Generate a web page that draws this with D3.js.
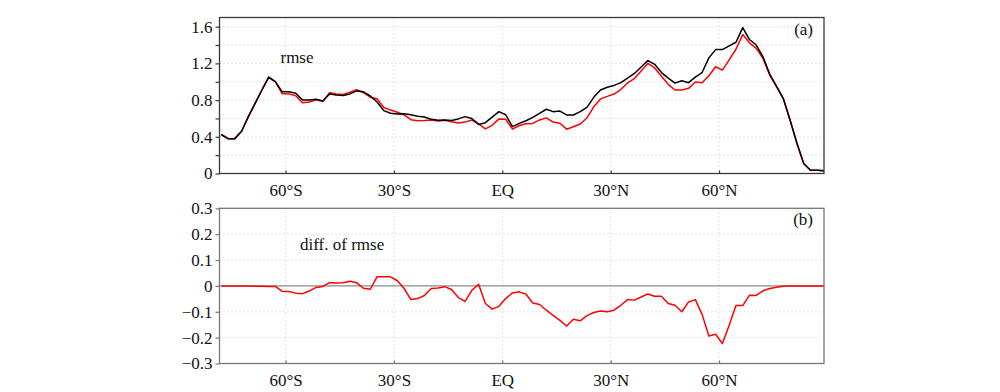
<!DOCTYPE html>
<html><head><meta charset="utf-8">
<script src="https://cdn.jsdelivr.net/npm/d3@7"></script>
<style>
html,body{margin:0;padding:0;background:#fff;}
svg text{font-family:"Liberation Serif","Times New Roman",serif;fill:#111;}
</style></head>
<body><svg id="c" width="1000" height="392"></svg>
<script>
const lat = [-77.8125,-75.9375,-74.0625,-72.1875,-70.3125,-68.4375,-66.5625,-64.6875,-62.8125,-60.9375,
-59.0625,-57.1875,-55.3125,-53.4375,-51.5625,-49.6875,-47.8125,-45.9375,-44.0625,-42.1875,
-40.3125,-38.4375,-36.5625,-34.6875,-32.8125,-30.9375,-29.0625,-27.1875,-25.3125,-23.4375,
-21.5625,-19.6875,-17.8125,-15.9375,-14.0625,-12.1875,-10.3125,-8.4375,-6.5625,-4.6875,
-2.8125,-0.9375,0.9375,2.8125,4.6875,6.5625,8.4375,10.3125,12.1875,14.0625,
15.9375,17.8125,19.6875,21.5625,23.4375,25.3125,27.1875,29.0625,30.9375,32.8125,
34.6875,36.5625,38.4375,40.3125,42.1875,44.0625,45.9375,47.8125,49.6875,51.5625,
53.4375,55.3125,57.1875,59.0625,60.9375,62.8125,64.6875,66.5625,68.4375,70.3125,
72.1875,74.0625,75.9375,77.8125,79.6875,81.5625,83.4375,85.3125,87.1875,89.0625];

const rmseBlack = [0.425,0.38,0.38,0.46,0.62,0.765,0.91,1.05,1.00,0.89,
0.89,0.875,0.80,0.80,0.81,0.79,0.867,0.856,0.85,0.867,
0.90,0.89,0.845,0.78,0.685,0.656,0.648,0.65,0.64,0.625,
0.615,0.592,0.58,0.583,0.578,0.595,0.62,0.60,0.535,0.554,
0.615,0.674,0.64,0.51,0.546,0.575,0.612,0.656,0.70,0.674,
0.68,0.638,0.638,0.674,0.72,0.83,0.91,0.94,0.96,0.99,
1.04,1.09,1.16,1.23,1.19,1.10,1.04,0.985,1.01,0.99,
1.05,1.10,1.26,1.35,1.35,1.39,1.43,1.59,1.46,1.40,
1.27,1.08,0.95,0.815,0.58,0.33,0.11,0.036,0.036,0.03];

const rmseRed = [0.425,0.38,0.38,0.46,0.62,0.764,0.909,1.048,0.998,0.869,
0.868,0.847,0.77,0.78,0.804,0.788,0.88,0.867,0.862,0.885,
0.912,0.881,0.832,0.815,0.72,0.691,0.668,0.64,0.587,0.576,
0.578,0.582,0.572,0.58,0.564,0.55,0.56,0.583,0.541,0.486,
0.525,0.595,0.591,0.483,0.523,0.543,0.546,0.584,0.606,0.56,
0.547,0.483,0.509,0.539,0.605,0.727,0.813,0.84,0.866,0.915,
0.987,1.035,1.117,1.199,1.15,1.06,0.972,0.91,0.91,0.928,
0.997,0.99,1.066,1.163,1.127,1.238,1.354,1.514,1.424,1.363,
1.251,1.07,0.945,0.814,0.58,0.33,0.11,0.036,0.036,0.03];

const rmseDiff = [0,0,0,0,0,-0.001,-0.001,-0.002,-0.002,-0.021,
-0.022,-0.028,-0.03,-0.02,-0.006,-0.002,0.013,0.011,0.012,0.018,
0.012,-0.009,-0.013,0.035,0.035,0.035,0.02,-0.01,-0.053,-0.049,
-0.037,-0.01,-0.008,-0.003,-0.014,-0.045,-0.06,-0.017,0.006,-0.068,
-0.09,-0.079,-0.049,-0.027,-0.023,-0.032,-0.066,-0.072,-0.094,-0.114,
-0.133,-0.155,-0.129,-0.135,-0.115,-0.103,-0.097,-0.1,-0.094,-0.075,
-0.053,-0.055,-0.043,-0.031,-0.04,-0.04,-0.068,-0.075,-0.1,-0.062,
-0.053,-0.11,-0.194,-0.187,-0.223,-0.152,-0.076,-0.076,-0.036,-0.037,
-0.019,-0.01,-0.005,-0.001,0,0,0,0,0,0];

const xTickVals = [-60,-30,0,30,60];
const xTickLabels = ["60°S","30°S","EQ","30°N","60°N"];
const yTopTicks = [0,0.2,0.4,0.6,0.8,1.0,1.2,1.4,1.6];
const yTopLabels = ["0","","0.4","","0.8","","1.2","","1.6"];
const yBotTicks = [-0.3,-0.2,-0.1,0,0.1,0.2,0.3];
const yBotLabels = ["\u22120.3","\u22120.2","\u22120.1","0","0.1","0.2","0.3"];

const svg = d3.select("#c");
const L = 219.5, R = 824;
const x = d3.scaleLinear().domain([-78.3, 89.0625]).range([L, R]);

function panel(cfg){
  const g = svg.append("g");
  const y = d3.scaleLinear().domain(cfg.domain).range([cfg.bottom, cfg.top]);
  g.selectAll(".hg").data(cfg.grid).enter().append("line")
    .attr("x1",L).attr("x2",R).attr("y1",d=>y(d)).attr("y2",d=>y(d))
    .attr("stroke","#c8c8c8").attr("stroke-width",1).attr("stroke-dasharray","1,3");
  g.selectAll(".vg").data(xTickVals).enter().append("line")
    .attr("x1",d=>x(d)).attr("x2",d=>x(d)).attr("y1",cfg.top).attr("y2",cfg.bottom)
    .attr("stroke","#c8c8c8").attr("stroke-width",1).attr("stroke-dasharray","1,3");
  if (cfg.zero){
    g.append("line").attr("x1",L).attr("x2",R).attr("y1",y(0)).attr("y2",y(0))
      .attr("stroke","#8a8a8a").attr("stroke-width",1.2);
  }
  const clipId = "clip"+cfg.name;
  svg.append("clipPath").attr("id",clipId).append("rect")
    .attr("x",L).attr("y",cfg.top).attr("width",R-L).attr("height",cfg.bottom-cfg.top);
  const line = d3.line().x((d,i)=>x(lat[i])).y(d=>y(d));
  cfg.series.forEach(s=>{
    g.append("path").datum(s.values).attr("d",line).attr("fill","none")
      .attr("stroke",s.color).attr("stroke-width",1.5).attr("stroke-linejoin","round")
      .attr("clip-path","url(#"+clipId+")");
  });
  g.append("rect").attr("x",L).attr("y",cfg.top).attr("width",R-L).attr("height",cfg.bottom-cfg.top)
    .attr("fill","none").attr("stroke",cfg.frame).attr("stroke-width",1.3);
  const ya = d3.axisLeft(y).tickValues(cfg.ticks).tickSize(4).tickPadding(3)
    .tickFormat((d,i)=>cfg.labels[i]);
  const ag = g.append("g").attr("transform",`translate(${L},0)`).call(ya);
  ag.select(".domain").remove();
  ag.selectAll(".tick line").attr("stroke",cfg.frame).attr("stroke-width",1.2);
  ag.selectAll(".tick text").attr("font-size","17px").attr("fill","#111")
    .style("font-family",'"Liberation Serif","Times New Roman",serif');
  const xa = d3.axisBottom(x).tickValues(xTickVals).tickSize(-3).tickPadding(10)
    .tickFormat((d,i)=>xTickLabels[i]);
  const bg = g.append("g").attr("transform",`translate(0,${cfg.bottom})`).call(xa);
  bg.select(".domain").remove();
  bg.selectAll(".tick line").attr("stroke",cfg.frame).attr("stroke-width",1.2);
  bg.selectAll(".tick text").attr("font-size","17px").attr("fill","#111")
    .style("font-family",'"Liberation Serif","Times New Roman",serif');
  g.append("text").attr("x",cfg.titleX).attr("y",cfg.titleY).attr("text-anchor",cfg.titleAnchor)
    .attr("font-size","17px").text(cfg.title);
  g.append("text").attr("x",813).attr("y",cfg.top+17).attr("text-anchor","end")
    .attr("font-size","17px").text(cfg.tag);
}

panel({name:"a", top:17.5, bottom:173.5, domain:[0,1.7], grid:[0.2,0.4,0.6,0.8,1.0,1.2,1.4,1.6],
  ticks:yTopTicks, labels:yTopLabels, frame:"#3a3a3a",
  series:[{values:rmseRed,color:"#ff0000"},{values:rmseBlack,color:"#000"}],
  title:"rmse", titleX:297, titleY:63, titleAnchor:"middle", tag:"(a)"});

panel({name:"b", top:208.3, bottom:363.5, domain:[-0.3,0.3], grid:[-0.2,-0.1,0.1,0.2], zero:true,
  ticks:yBotTicks, labels:yBotLabels, frame:"#777",
  series:[{values:rmseDiff,color:"#ff0000"}],
  title:"diff. of rmse", titleX:300, titleY:250, titleAnchor:"start", tag:"(b)"});
</script></body></html>
